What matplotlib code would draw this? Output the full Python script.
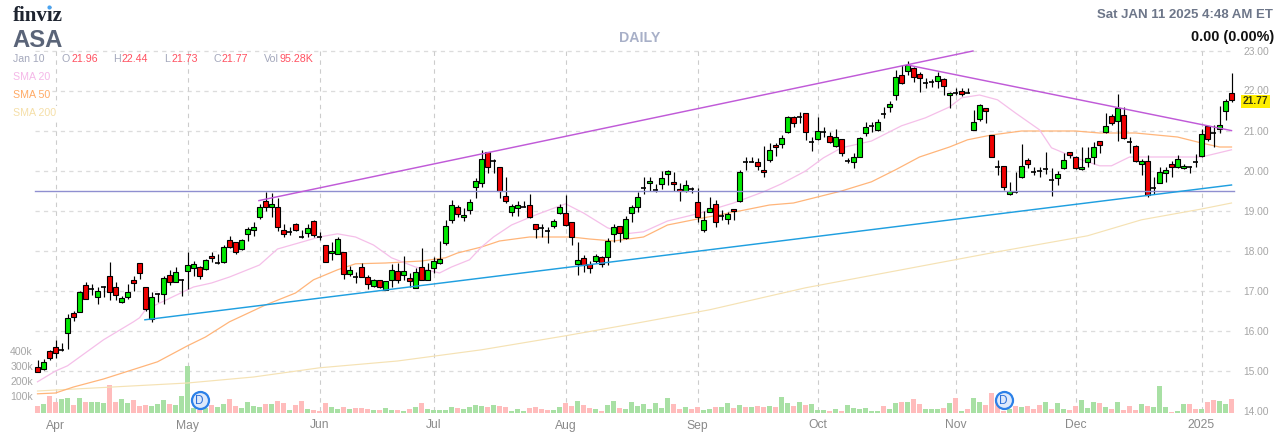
import matplotlib
matplotlib.use("Agg")
import matplotlib.pyplot as plt
from matplotlib.transforms import Affine2D

opens = [15.11,15.04,15.51,15.59,15.53,15.96,16.44,16.48,17.14,17.04,
 16.84,17.10,17.37,17.11,16.72,16.84,17.27,17.69,17.09,16.29,
 16.93,16.93,17.39,17.23,17.27,17.49,17.57,17.61,17.54,17.87,
 17.69,17.72,18.27,18.22,18.04,18.42,18.53,18.84,19.26,19.09,
 19.09,18.52,18.47,18.68,18.35,18.44,18.74,18.35,18.14,17.94,
 17.92,17.97,17.42,17.36,17.59,17.34,17.12,17.27,17.03,17.28,
 17.49,17.39,17.32,17.07,17.59,17.28,17.57,17.69,18.19,18.77,
 19.09,18.84,19.02,19.59,19.69,20.47,20.24,20.09,19.37,18.97,
 19.07,19.11,19.14,18.67,18.57,18.50,18.62,18.94,18.94,18.72,
 17.67,17.82,17.67,17.74,17.84,17.84,18.42,18.62,18.32,18.94,
 19.09,19.58,19.69,19.53,19.67,19.92,19.72,19.54,19.49,19.54,
 19.22,18.53,18.98,19.17,18.88,18.81,19.04,19.24,20.22,20.23,
 20.22,20.02,20.27,20.64,20.68,20.97,21.34,21.36,21.44,20.73,
 20.79,20.97,20.87,20.63,20.79,20.26,20.22,20.34,20.94,21.12,
 21.02,21.42,21.59,21.89,22.39,22.49,22.57,22.42,22.21,22.23,
 22.24,22.29,21.89,21.96,21.99,21.95,21.02,21.29,21.57,20.89,
 20.11,20.12,19.42,19.47,19.84,20.27,19.97,20.01,20.06,19.77,
 19.82,20.08,20.47,20.34,20.04,20.22,20.34,20.74,20.97,21.37,
 21.24,21.39,20.72,20.62,20.17,20.24,19.57,19.69,19.94,20.17,
 20.09,20.07,20.10,20.22,20.37,21.12,20.96,21.04,21.49,21.96]
closes = [14.98,15.23,15.33,15.44,15.53,16.32,16.36,16.97,16.79,17.04,
 16.99,17.10,16.97,16.89,16.82,16.97,17.19,17.46,16.54,16.84,
 16.93,17.32,17.23,17.47,17.27,17.64,17.67,17.38,17.77,17.82,
 17.69,18.09,18.09,17.98,18.27,18.54,18.59,19.11,19.09,19.17,
 18.59,18.42,18.47,18.52,18.35,18.57,18.39,18.35,17.73,17.99,
 18.29,17.42,17.52,17.36,17.36,17.17,17.27,17.09,17.24,17.52,
 17.28,17.49,17.24,17.47,17.28,17.52,17.74,17.79,18.62,19.14,
 18.92,18.89,19.22,19.74,20.29,20.09,20.24,19.49,19.24,19.12,
 19.14,19.11,18.84,18.54,18.57,18.50,18.74,19.09,18.64,18.34,
 17.77,17.64,17.57,17.87,17.67,18.24,18.59,18.44,18.79,19.09,
 19.34,19.58,19.74,19.53,19.82,20.01,19.67,19.49,19.64,19.54,
 18.84,18.77,19.07,18.73,18.88,18.92,18.99,19.97,20.22,20.23,
 20.12,19.97,20.52,20.59,20.82,21.34,21.21,21.36,20.97,20.73,
 20.99,20.97,20.72,20.84,20.44,20.26,20.34,20.82,21.09,21.12,
 21.22,21.42,21.67,22.34,22.19,22.64,22.34,22.32,22.21,22.23,
 22.37,22.12,21.94,21.96,21.92,21.95,21.22,21.64,21.49,20.34,
 20.11,19.59,19.49,19.47,20.12,20.17,19.97,20.01,20.06,19.77,
 19.92,20.27,20.39,20.07,20.09,20.32,20.59,20.64,21.12,21.19,
 21.57,20.82,20.72,20.24,20.24,19.39,19.57,19.97,20.02,20.09,
 20.29,20.12,20.10,20.22,20.92,20.79,20.96,21.14,21.74,21.77]
highs = [15.28,15.30,15.53,15.78,15.69,16.43,16.51,17.00,17.23,17.18,
 17.09,17.12,17.73,17.23,16.88,17.18,17.37,17.69,17.09,16.97,
 16.94,17.38,17.53,17.59,17.29,17.98,17.75,17.63,17.81,17.98,
 17.93,18.14,18.38,18.22,18.29,18.59,18.73,19.18,19.48,19.44,
 19.32,18.67,18.59,18.69,18.53,18.67,18.78,18.47,18.14,18.23,
 18.36,17.97,17.63,17.48,17.69,17.40,17.29,17.28,17.26,17.67,
 17.71,17.88,17.44,17.58,18.07,17.71,17.86,18.25,18.78,19.28,
 19.15,19.07,19.29,19.82,20.53,20.48,20.29,20.09,19.85,19.18,
 19.26,19.24,19.43,18.67,18.67,18.59,18.79,19.18,19.39,18.73,
 18.22,17.89,17.74,17.93,17.88,18.32,18.67,18.62,18.88,19.14,
 19.48,19.86,19.85,19.67,20.01,20.03,19.97,19.69,19.78,19.61,
 19.57,19.00,19.35,19.28,19.02,18.98,19.04,20.03,20.34,20.34,
 20.32,20.63,20.69,20.69,20.90,21.38,21.38,21.48,21.44,20.84,
 21.34,21.11,20.98,21.04,20.79,20.32,20.44,20.84,21.23,21.23,
 21.29,21.59,21.76,22.53,22.64,22.75,22.59,22.48,22.32,22.30,
 22.48,22.32,21.98,22.07,22.07,22.07,21.53,21.68,21.57,20.89,
 20.28,20.12,19.73,19.97,20.68,20.32,20.11,20.09,20.48,20.07,
 20.00,20.46,20.47,20.38,20.59,20.59,20.72,20.74,21.44,21.42,
 21.92,21.59,20.84,20.66,20.31,20.41,19.86,20.09,20.11,20.26,
 20.40,20.18,20.13,20.42,21.04,21.13,21.14,21.63,21.81,22.44]
lows = [14.98,15.03,15.28,15.32,15.51,15.56,16.26,16.48,16.79,16.90,
 16.68,16.86,16.78,16.78,16.71,16.79,17.00,17.30,16.51,16.23,
 16.73,16.68,17.15,17.23,16.88,17.06,17.38,17.31,17.53,17.73,
 17.68,17.71,18.08,17.93,18.03,18.26,18.38,18.79,19.01,18.86,
 18.51,18.36,18.40,18.49,18.33,18.36,18.34,18.28,17.73,17.78,
 17.92,17.31,17.38,17.21,17.36,17.06,17.09,17.07,17.03,17.11,
 17.19,17.28,17.11,17.07,17.28,17.28,17.44,17.68,18.14,18.69,
 18.86,18.76,18.93,19.32,19.59,19.96,19.96,19.32,19.19,18.88,
 18.88,19.09,18.83,18.32,18.36,18.21,18.58,18.93,18.63,18.15,
 17.41,17.48,17.44,17.69,17.59,17.64,18.22,18.22,18.30,18.73,
 18.98,19.43,19.51,19.48,19.56,19.64,19.49,19.26,19.48,19.46,
 18.72,18.48,18.97,18.61,18.77,18.68,18.78,19.23,20.03,20.22,
 20.03,19.85,20.23,20.38,20.58,20.96,21.10,21.21,20.78,20.50,
 20.78,20.84,20.69,20.61,20.38,20.19,20.08,20.34,20.88,20.98,
 21.01,21.33,21.48,21.78,22.18,22.39,22.23,21.98,22.08,22.11,
 22.08,21.91,21.58,21.90,21.88,21.94,21.02,21.26,21.19,20.34,
 19.90,19.53,19.41,19.44,19.83,20.08,19.90,19.86,19.93,19.38,
 19.66,20.06,20.33,20.04,20.03,20.09,20.17,20.45,20.96,21.14,
 20.74,20.79,20.44,20.23,19.91,19.36,19.43,19.69,19.72,19.84,
 20.08,20.06,19.96,20.11,20.36,20.74,20.61,20.96,21.28,21.73]
volumes_k = [49,62,116,76,96,102,56,102,76,76,
 76,69,189,76,96,69,89,49,56,49,
 62,89,62,56,116,315,33,18,33,56,
 42,62,96,49,36,76,49,42,62,62,
 82,69,22,56,82,29,22,16,69,42,
 29,42,29,36,36,29,22,22,36,22,
 22,13,27,40,67,27,20,20,20,40,
 33,27,40,53,47,40,53,47,40,13,
 27,13,33,40,27,20,20,40,67,47,
 80,53,33,27,13,53,80,33,27,73,
 47,60,27,67,33,100,60,27,40,27,
 40,20,27,40,40,67,33,53,40,40,
 47,40,47,40,107,67,47,73,53,60,
 20,20,13,27,13,53,33,27,33,13,
 13,47,27,67,73,73,93,60,27,27,
 27,33,67,100,13,27,100,73,53,133,
 87,13,27,47,40,47,27,53,73,27,
 67,27,20,47,87,33,73,67,40,27,
 73,20,47,20,60,47,40,180,40,7,
 13,60,60,27,27,73,87,80,60,95]
volume_dirs = ("RGRRGGRGRG" "GGRRGGRRRG" "GGRGGGGRGR" "GGRRGGGGRG" "RRGRRGRRRG"
 "GRGRRRGRGG" "RGRGRGGGGG" "RGGGGRGRRG" "GGRRRRGGRR" "GRRGRGGRGG"
 "GGGGGGRRGR" "RGGRGGRGRG" "RRGRGGRGRG" "GGRGRGGGGG" "GRGGRGRRGG"
 "GRGRGRGGRR" "RRGRGRRRGR" "GGRRGGGRGR" "GRRRGRGGGR" "GGRRGRRGGR")

sma20_idx = [0,3,5,11,16,17,18,25,26,29,32,37,40,47,50,53,56,59,63,67,69,72,74,76,79,83,88,91,95,98,
 101,105,110,116,121,124,128,131,134,139,144,148,152,154,157,160,163,167,169,173,177,179,182,186,191,194,199]
sma20_val = [14.73,15.0,15.13,15.78,16.23,16.33,16.53,17.03,17.1,17.2,17.35,17.65,18.05,18.35,18.43,18.35,18.15,17.83,17.6,17.45,
 17.6,17.78,18.1,18.35,18.65,18.9,19.18,18.95,18.58,18.43,18.48,18.75,18.93,19.2,19.48,19.68,20.0,20.33,20.58,20.75,
 21.13,21.33,21.6,21.83,21.9,21.78,21.45,21.03,20.58,20.33,20.13,20.13,20.35,20.35,20.35,20.35,20.53]
sma50_idx = [0,3,6,11,20,25,28,32,38,43,46,50,53,58,64,68,70,74,77,82,89,92,96,101,105,110,117,122,126,130,
 134,139,143,147,152,155,159,164,173,177,183,190,194,197,199]
sma50_val = [14.43,14.45,14.6,14.8,15.23,15.63,15.85,16.23,16.65,16.95,17.28,17.53,17.68,17.7,17.75,17.83,17.95,18.1,18.25,18.35,
 18.35,18.3,18.25,18.35,18.65,18.8,19.0,19.15,19.2,19.35,19.5,19.73,20.03,20.35,20.6,20.78,20.9,21.0,21.0,20.95,
 20.95,20.85,20.7,20.6,20.6]
sma200_idx = [0,10,25,36,47,60,74,88,100,112,128,144,160,175,184,194,199]
sma200_val = [14.5,14.58,14.7,14.85,15.08,15.25,15.53,15.88,16.2,16.53,17.08,17.53,17.98,18.38,18.78,19.05,19.2]

trend_up_idx, trend_up_val = [36.9, 155.9], [19.26, 23.0]
trend_down_idx, trend_down_val = [145, 199], [22.65, 21.01]
trend_low_idx, trend_low_val = [17.9, 199], [16.28, 19.65]
support_level = 19.49

price_ticks = [23, 22, 21, 20, 19, 18, 17, 16, 15, 14]
month_idx = [3, 25, 47, 66, 88, 110, 130, 153, 173, 194]
month_labels = ["Apr", "May", "Jun", "Jul", "Aug", "Sep", "Oct", "Nov", "Dec", "2025"]
volume_ticks = [100, 200, 300, 400]
dividend_idx = [27, 161]

FONT = "Liberation Sans"
W, H = 1287, 442
fig = plt.figure(figsize=(W / 100, H / 100), dpi=100, facecolor="white")
ax = fig.add_axes([0, 0, 1, 1])
ax.set_xlim(-37.5 / 6, (W - 37.5) / 6)
ax.set_ylim(23 - (H - 51) / 40, 23 + 51 / 40)
ax.axis("off")
vax = fig.add_axes([0, 0, 1, 1], sharex=ax)
vax.set_ylim(-(H - 413) / 0.15, 413 / 0.15)
vax.axis("off")
vax.patch.set_alpha(0)
ax.set_zorder(2)
vax.set_zorder(3)
ax.patch.set_alpha(0)
px = Affine2D().scale(1, -1).translate(0, H)

# grid
grid_h = [t for t in price_ticks if t > 14]
ax.hlines(grid_h, -0.4, 199.4, color="#dcdcdc", lw=0.95, linestyles=(0, (3.2, 3.2)), zorder=1)
ax.vlines(month_idx, 14, 23, color="#cccccc", lw=0.8, linestyles=(0, (4, 4)), zorder=1)

# volume
xs = list(range(len(opens)))
vol_colors = ["#a8e0a4" if d == "G" else "#ffbcbc" for d in volume_dirs]
ax.bar(xs, [v * 0.15 / 40 for v in volumes_k], bottom=14 - 2 / 40, width=5 / 6, color=vol_colors, lw=0, zorder=1.5)

# moving averages
ax.plot(sma200_idx, sma200_val, color="#f5e2b4", lw=0.85, zorder=2)
ax.plot(sma50_idx, sma50_val, color="#ffb57a", lw=0.9, zorder=2)
ax.plot(sma20_idx, sma20_val, color="#f5bfe9", lw=0.9, zorder=2)

# candles
ax.vlines(xs, lows, highs, color="black", lw=0.85, zorder=3)
for i, o, c in zip(xs, opens, closes):
    if o == c:
        ax.hlines(o, i - 0.42, i + 0.42, color="black", lw=1.2, zorder=4)
    else:
        ax.bar(i, abs(c - o), bottom=min(o, c), width=0.68,
               color="#00e800" if c > o else "#f00000", edgecolor="black", lw=0.8, zorder=4)

# trend lines
ax.plot([-0.4, 199.4], [support_level, support_level], color="#8f8fd0", lw=1.0, zorder=5)
ax.plot(trend_up_idx, trend_up_val, color="#c05ad8", lw=1.05, zorder=5)
ax.plot(trend_down_idx, trend_down_val, color="#c05ad8", lw=1.05, zorder=5)
ax.plot(trend_low_idx, trend_low_val, color="#1f9fe0", lw=1.05, zorder=5)

# dividend markers
vax.scatter(dividend_idx, [87, 87], s=150, facecolor="#dde9fb", edgecolor="#2b80e8", lw=1.6, zorder=6)
for d in dividend_idx:
    vax.text(d, 87, "D", color="#2b6fd8", fontsize=8.5, family=FONT, ha="center", va="center_baseline", zorder=7)

def t(x, y, s, color, size, bold=False, ha="left", family=FONT, **kw):
    return ax.text(x, y, s, transform=px, color=color, fontsize=size, family=family,
                   fontweight="bold" if bold else "normal", ha=ha, va="center_baseline", zorder=8, **kw)

# axis labels
for p in price_ticks:
    if p != 22:
        t(1243, 51 + (23 - p) * 40, f"{p:.2f}", "#a6a6a6", 7.4)
t(1243, 89.5, "22.00", "#a6a6a6", 7.4)
for i, lab in zip(month_idx, month_labels):
    ax.text(i, 14 - 13 / 40, lab, color="#8a8a8a", fontsize=8.7, family=FONT, ha="center",
            va="center_baseline", zorder=8)
for v in volume_ticks:
    t(33, 411 - v * 0.15, f"{v}k", "#a6a6a6", 7.6, ha="right")

# header
t(13, 13.5, "finviz", "#1e2430", 15, bold=True, family="Liberation Serif")
ax.scatter([49], [7], s=9, color="#4aa3f0", transform=px, zorder=9, lw=0)
t(12, 38, "ASA", "#5a6478", 17.2, bold=True)
t(1273, 14, "Sat JAN 11 2025 4:48 AM ET", "#6d7689", 9.5, bold=True, ha="right")
t(1274, 36, "0.00 (0.00%)", "#111111", 10.4, bold=True, ha="right")
t(640, 36, "DAILY", "#a8b0c8", 10.2, bold=True, ha="center")

white = dict(facecolor="white", edgecolor="none", pad=1.5)
t(13, 58, "Jan 10", "#a4a8bc", 7.6, bbox=white)
for x, s in [(61, "O"), (113, "H"), (164, "L"), (213, "C"), (264, "Vol")]:
    t(x, 58, s, "#a4a8bc", 7.7)
for x, s in [(71, "21.96"), (122, "22.44"), (171, "21.73"), (222, "21.77"), (280, "95.28K")]:
    t(x, 58, s, "#ff5060", 7.7)
t(13, 76, "SMA 20", "#f5b8e8", 7.7, bbox=white)
t(13, 94, "SMA 50", "#ffaa66", 7.7, bbox=white)
t(13, 112, "SMA 200", "#f5dfa8", 7.7, bbox=white)

# last price tag
t(1243, 100.5, "21.77", "#3a3a10", 7.4, bold=True,
  bbox=dict(facecolor="#ffee00", edgecolor="none", pad=1.3))

fig.savefig("out.png", dpi=100, facecolor="white")
